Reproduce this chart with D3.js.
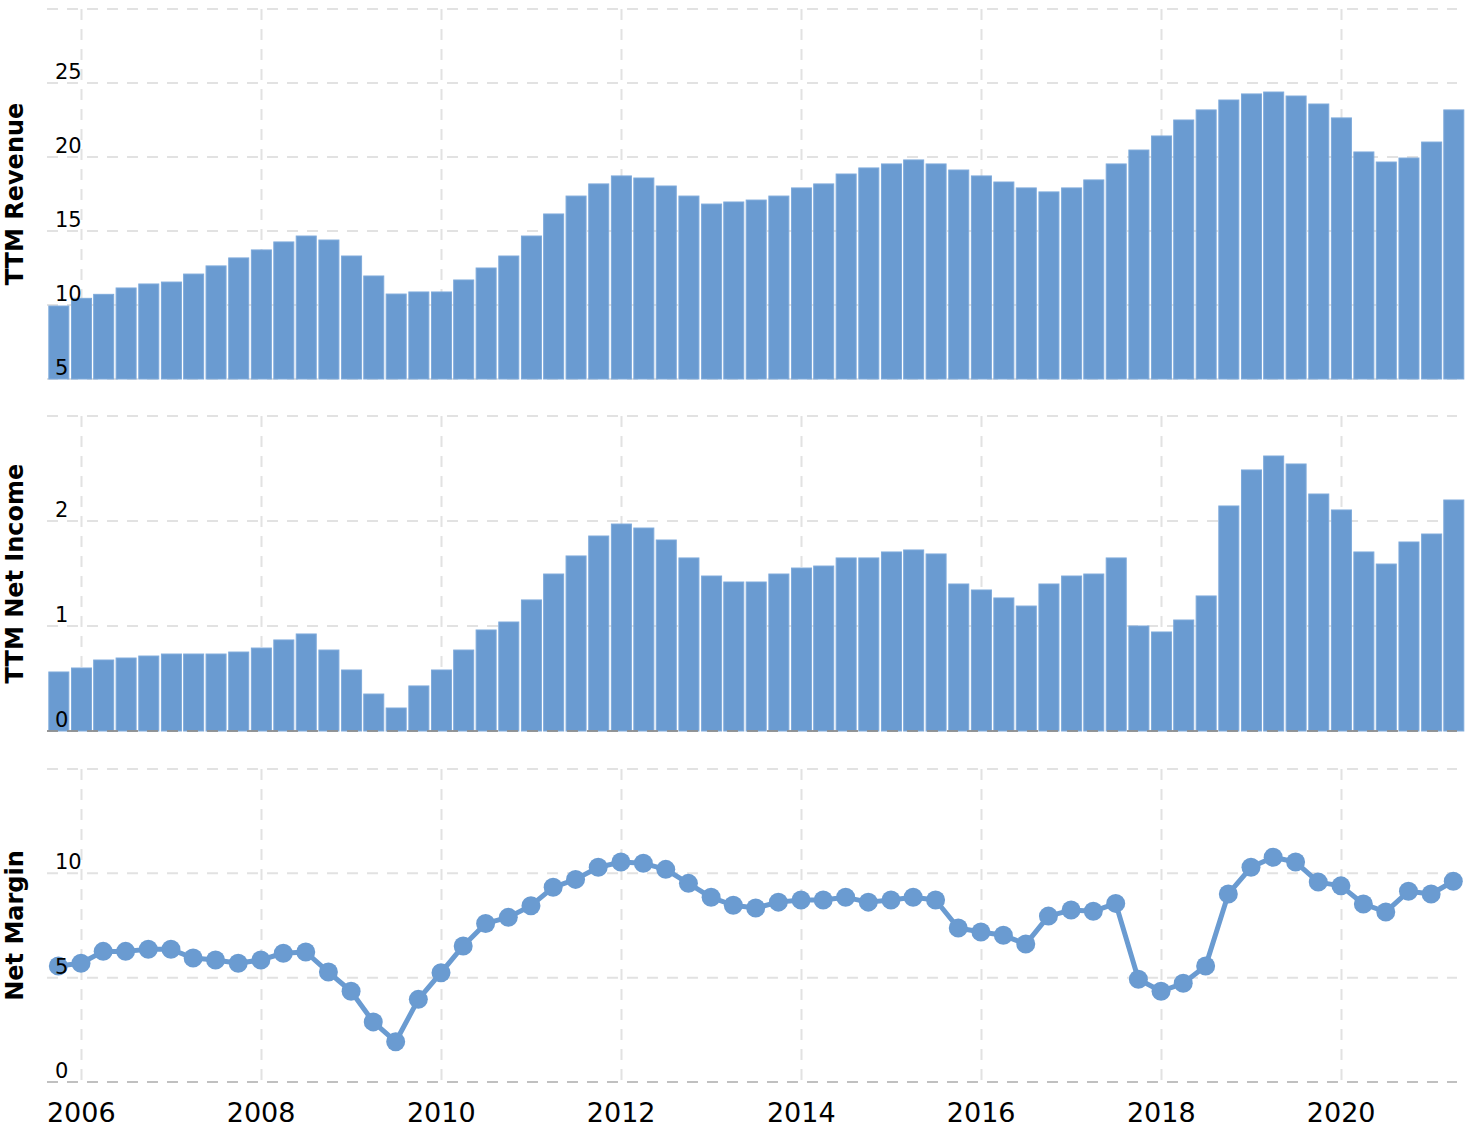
<!DOCTYPE html>
<html>
<head>
<meta charset="utf-8">
<script src="https://cdn.jsdelivr.net/npm/d3@7"></script>
<style>
  html, body { margin: 0; padding: 0; background: #fff; }
  svg { display: block; font-family: "DejaVu Sans", Verdana, sans-serif; }
</style>
</head>
<body>
<svg id="chart" width="1468" height="1128"></svg>
<script>
// Quarter-end dates
const dates = [
  "2005-09-30","2005-12-31",
  "2006-03-31","2006-06-30","2006-09-30","2006-12-31",
  "2007-03-31","2007-06-30","2007-09-30","2007-12-31",
  "2008-03-31","2008-06-30","2008-09-30","2008-12-31",
  "2009-03-31","2009-06-30","2009-09-30","2009-12-31",
  "2010-03-31","2010-06-30","2010-09-30","2010-12-31",
  "2011-03-31","2011-06-30","2011-09-30","2011-12-31",
  "2012-03-31","2012-06-30","2012-09-30","2012-12-31",
  "2013-03-31","2013-06-30","2013-09-30","2013-12-31",
  "2014-03-31","2014-06-30","2014-09-30","2014-12-31",
  "2015-03-31","2015-06-30","2015-09-30","2015-12-31",
  "2016-03-31","2016-06-30","2016-09-30","2016-12-31",
  "2017-03-31","2017-06-30","2017-09-30","2017-12-31",
  "2018-03-31","2018-06-30","2018-09-30","2018-12-31",
  "2019-03-31","2019-06-30","2019-09-30","2019-12-31",
  "2020-03-31","2020-06-30","2020-09-30","2020-12-31",
  "2021-03-31"
];

const ttmRevenue = [
  9.93, 10.45, 10.72, 11.15, 11.42, 11.55, 12.09, 12.64, 13.18, 13.72,
  14.26, 14.66, 14.39, 13.31, 11.96, 10.74, 10.88, 10.88, 11.69, 12.50,
  13.31, 14.66, 16.15, 17.36, 18.18, 18.72, 18.58, 18.04, 17.36, 16.82,
  16.96, 17.09, 17.36, 17.91, 18.18, 18.85, 19.26, 19.53, 19.80, 19.53,
  19.12, 18.72, 18.31, 17.91, 17.64, 17.91, 18.45, 19.53, 20.47, 21.42,
  22.50, 23.18, 23.85, 24.26, 24.39, 24.12, 23.58, 22.64, 20.34, 19.66,
  19.93, 21.01, 23.18
];

const ttmNetIncome = [
  0.562, 0.600, 0.676, 0.695, 0.714, 0.733, 0.733, 0.733, 0.752, 0.790,
  0.867, 0.924, 0.771, 0.581, 0.352, 0.219, 0.429, 0.581, 0.771, 0.962,
  1.038, 1.248, 1.495, 1.667, 1.857, 1.971, 1.933, 1.819, 1.648, 1.476,
  1.419, 1.419, 1.495, 1.552, 1.571, 1.648, 1.648, 1.705, 1.724, 1.686,
  1.400, 1.343, 1.267, 1.190, 1.400, 1.476, 1.495, 1.648, 1.000, 0.943,
  1.057, 1.286, 2.143, 2.486, 2.619, 2.543, 2.257, 2.105, 1.705, 1.590,
  1.800, 1.876, 2.200
];

const netMargin = [
  5.56, 5.69, 6.26, 6.26, 6.36, 6.36, 5.94, 5.85, 5.69, 5.85,
  6.17, 6.23, 5.27, 4.35, 2.88, 1.93, 3.96, 5.24, 6.52, 7.60,
  7.89, 8.45, 9.33, 9.71, 10.29, 10.54, 10.48, 10.19, 9.52, 8.85,
  8.47, 8.34, 8.62, 8.72, 8.72, 8.85, 8.62, 8.72, 8.85, 8.72,
  7.38, 7.19, 7.03, 6.61, 7.95, 8.24, 8.18, 8.56, 4.92, 4.35,
  4.73, 5.56, 9.01, 10.29, 10.77, 10.54, 9.58, 9.40, 8.53, 8.15,
  9.14, 9.01, 9.62
];

const xTickYears = [2006, 2008, 2010, 2012, 2014, 2016, 2018, 2020];
const revenueTicks = [5, 10, 15, 20, 25];
const netIncomeTicks = [0, 1, 2];
const marginTicks = [0, 5, 10];

const parse = d3.utcParse("%Y-%m-%d");
const dateObjs = dates.map(parse);

const svg = d3.select("#chart");
const blue = "#6a9bd1";
const gridColor = "#e2e2e2";

const x = d3.scaleUtc()
  .domain([new Date(Date.UTC(2005, 7, 15)), new Date(Date.UTC(2021, 3, 15))])
  .range([47, 1457]);

const panels = [
  { title: "TTM Revenue", values: ttmRevenue, domain: [5, 30], range: [379, 9], ticks: revenueTicks, type: "bar", zeroLine: null },
  { title: "TTM Net Income", values: ttmNetIncome, domain: [0, 3], range: [731, 416], ticks: netIncomeTicks, type: "bar", zeroLine: "#8f8f8f" },
  { title: "Net Margin", values: netMargin, domain: [0, 15], range: [1082, 769], ticks: marginTicks, type: "line", zeroLine: "#bdbdbd" }
];

panels.forEach(p => {
  const y = d3.scaleLinear().domain(p.domain).range(p.range);
  const g = svg.append("g");
  const gridG = g.append("g");

  // vertical grid lines
  gridG.selectAll("line.v").data(xTickYears).join("line")
    .attr("x1", d => Math.round(x(new Date(Date.UTC(d, 0, 1)))) + 0.5)
    .attr("x2", d => Math.round(x(new Date(Date.UTC(d, 0, 1)))) + 0.5)
    .attr("y1", y.range()[1])
    .attr("y2", y.range()[0])
    .attr("stroke", gridColor).attr("stroke-width", 2)
    .attr("stroke-dasharray", "11,9");

  // horizontal grid lines (ticks + top)
  const hLines = p.ticks.concat([p.domain[1]]);
  gridG.selectAll("line.h").data(hLines).join("line")
    .attr("x1", x.range()[0]).attr("x2", x.range()[1])
    .attr("y1", d => y(d)).attr("y2", d => y(d))
    .attr("stroke", gridColor).attr("stroke-width", 2)
    .attr("stroke-dasharray", "11,9");

  if (p.type === "bar") {
    g.append("g").selectAll("rect").data(p.values).join("rect")
      .attr("x", (d, i) => x(dateObjs[i]) - 9.5)
      .attr("width", 20)
      .attr("y", d => y(d))
      .attr("height", d => y(p.domain[0]) - y(d))
      .attr("fill", blue)
      .attr("stroke", "#7eaadb")
      .attr("stroke-width", 1);
  } else {
    const line = d3.line().x((d, i) => x(dateObjs[i])).y(d => y(d));
    g.append("path").datum(p.values)
      .attr("d", line).attr("fill", "none")
      .attr("stroke", blue).attr("stroke-width", 5)
      .attr("stroke-linejoin", "round");
    g.append("g").selectAll("circle").data(p.values).join("circle")
      .attr("cx", (d, i) => x(dateObjs[i]))
      .attr("cy", d => y(d))
      .attr("r", 9.5)
      .attr("fill", blue);
  }

  if (p.zeroLine) {
    g.append("line")
      .attr("x1", x.range()[0]).attr("x2", x.range()[1])
      .attr("y1", y(0)).attr("y2", y(0))
      .attr("stroke", p.zeroLine).attr("stroke-width", 2)
      .attr("stroke-opacity", 0.9)
      .attr("stroke-dasharray", "11,9");
  }

  // tick labels
  g.append("g").selectAll("text").data(p.ticks).join("text")
    .attr("x", 55)
    .attr("y", d => y(d) - 4)
    .attr("font-size", 21)
    .attr("fill", "#000")
    .text(d => d);

  // axis title
  const cy = (p.range[0] + p.range[1]) / 2;
  g.append("text")
    .attr("transform", `translate(23,${cy}) rotate(-90)`)
    .attr("text-anchor", "middle")
    .attr("font-size", 24)
    .attr("font-weight", "bold")
    .attr("fill", "#000")
    .text(p.title);
});

// x axis labels
svg.append("g").selectAll("text").data(xTickYears).join("text")
  .attr("x", d => x(new Date(Date.UTC(d, 0, 1))))
  .attr("y", 1122)
  .attr("text-anchor", "middle")
  .attr("font-size", 27)
  .attr("fill", "#000")
  .text(d => d);
</script>
</body>
</html>
